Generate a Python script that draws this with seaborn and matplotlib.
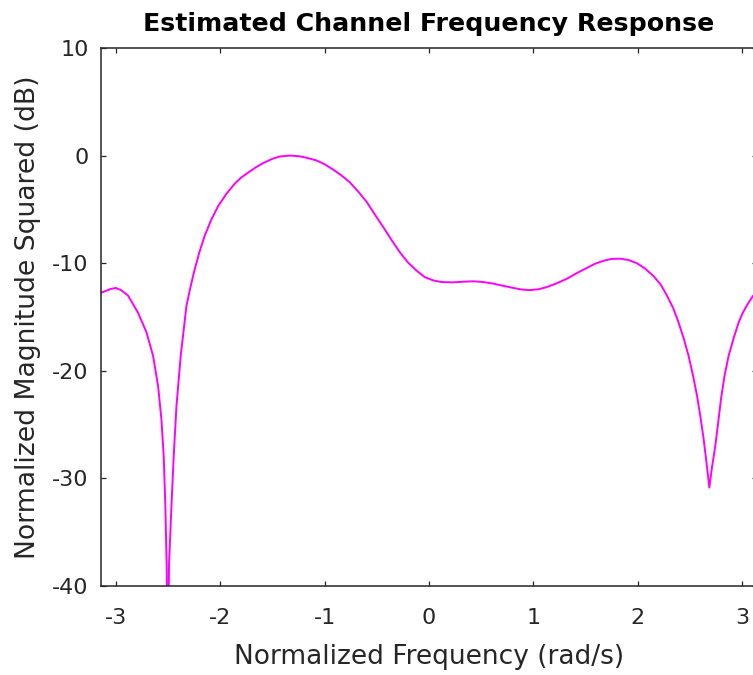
import numpy as np
import pandas as pd
import matplotlib
matplotlib.use("Agg")
import matplotlib.pyplot as plt
import seaborn as sns

# Data
freq = [-3.1416, -3.05, -3.00, -2.95, -2.883, -2.787, -2.707, -2.643, -2.595, -2.563,
        -2.541, -2.525, -2.512, -2.503, -2.490, -2.467, -2.445, -2.419, -2.378, -2.323,
        -2.29, -2.25, -2.20, -2.148, -2.085, -2.02, -1.94, -1.86, -1.80, -1.75,
        -1.66, -1.589, -1.50, -1.429, -1.333,
        -1.25, -1.173, -1.077, -1.00, -0.918, -0.837, -0.757, -0.677, -0.597, -0.517,
        -0.438, -0.358, -0.278, -0.20, -0.118, -0.04, 0.041, 0.12, 0.233, 0.33,
        0.425, 0.52, 0.617, 0.71, 0.808, 0.89, 0.968, 1.05, 1.128, 1.22,
        1.32, 1.41, 1.51, 1.59, 1.671, 1.75, 1.831, 1.91, 1.991, 2.07,
        2.151, 2.22, 2.279, 2.34, 2.39, 2.44, 2.486, 2.53, 2.567, 2.60,
        2.630, 2.66, 2.685, 2.71, 2.742, 2.77, 2.797, 2.83, 2.870, 2.92,
        2.966, 3.006, 3.046, 3.106, 3.1416]
mag_db = [-12.75, -12.4, -12.3, -12.5, -13.0, -14.6, -16.4, -18.6, -21.4, -24.5,
          -27.9, -32.6, -38.5, -50.0, -38.0, -32.6, -27.9, -23.3, -18.6, -13.95,
          -12.45, -10.8, -9.0, -7.44, -5.95, -4.7, -3.55, -2.6, -2.05, -1.7,
          -1.1, -0.7, -0.3, -0.08, 0.0,
          -0.05, -0.2, -0.45, -0.8, -1.3, -1.85, -2.5, -3.35, -4.3, -5.5,
          -6.65, -7.85, -9.0, -9.95, -10.7, -11.3, -11.6, -11.75, -11.78, -11.72,
          -11.68, -11.75, -11.9, -12.1, -12.3, -12.45, -12.5, -12.42, -12.22, -11.88,
          -11.45, -10.95, -10.45, -10.05, -9.78, -9.6, -9.58, -9.7, -10.0, -10.5,
          -11.2, -12.0, -13.0, -14.2, -15.5, -17.0, -18.6, -20.5, -22.3, -24.3,
          -26.3, -28.7, -30.85, -29.0, -27.0, -24.8, -22.6, -20.5, -18.6, -16.9,
          -15.5, -14.6, -13.9, -13.0, -12.7]

x_ticks = [-3, -2, -1, 0, 1, 2, 3]
y_ticks = [-40, -30, -20, -10, 0, 10]

title = "Estimated Channel Frequency Response"
x_label = "Normalized Frequency (rad/s)"
y_label = "Normalized Magnitude Squared (dB)"

sns.set_theme(style="ticks")
plt.rcParams['font.family'] = ['DejaVu Sans']

df = pd.DataFrame({"freq": freq, "mag": mag_db})

fig = plt.figure(figsize=(7.53, 6.75), dpi=100)
ax = fig.add_axes([101 / 753, (675 - 586) / 675, 656 / 753, 538 / 675])

sns.lineplot(data=df, x="freq", y="mag", color="#FF00FF", linewidth=1.4,
             ax=ax, sort=False, estimator=None)

ax.set_xlim(-np.pi, np.pi)
ax.set_ylim(-40, 10)
ax.set_xticks(x_ticks)
ax.set_yticks(y_ticks)
ax.set_xticklabels([str(t) for t in x_ticks])
ax.set_yticklabels([str(t) for t in y_ticks])

edge = "#262626"
for s in ax.spines.values():
    s.set_visible(True)
    s.set_color(edge)
    s.set_linewidth(1.1)

ax.tick_params(axis="both", which="both", direction="in", top=True, right=True,
               length=3.8, width=0.9, color=edge, labelsize=16, labelcolor=edge)
ax.tick_params(axis="x", pad=16)
ax.tick_params(axis="y", pad=9)

ax.set_xlabel(x_label, fontsize=19, color=edge, labelpad=11)
ax.set_ylabel(y_label, fontsize=19.2, color=edge, labelpad=8)
ax.set_title(title, fontsize=18.2, fontweight="bold", color="black", pad=12)

fig.savefig("out.png", dpi=100)
